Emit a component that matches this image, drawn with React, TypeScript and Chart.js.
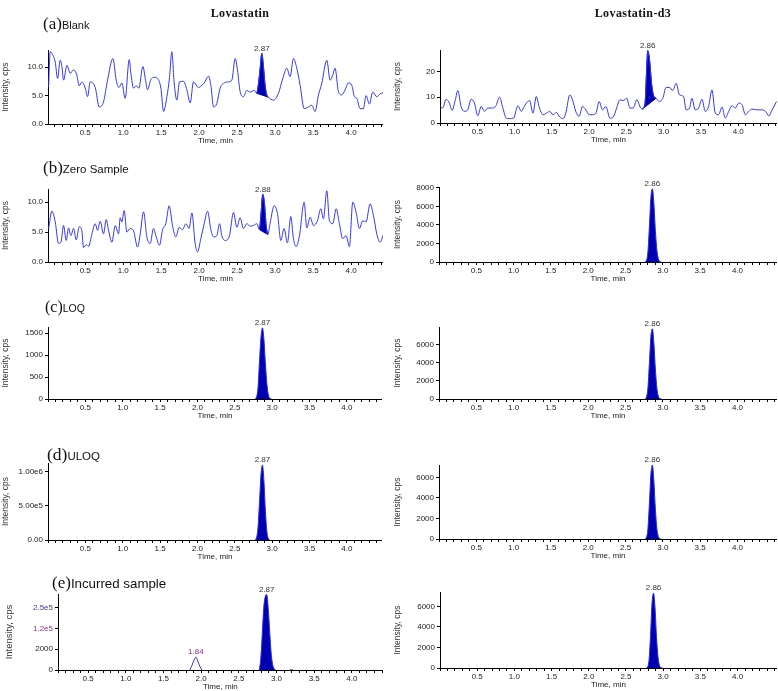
import React, { useEffect, useRef } from 'react';
import { Chart, registerables, LinearScale } from 'chart.js';

Chart.register(...registerables);

// ---------------- data ----------------
const timeTickLabels = ['0.5', '1.0', '1.5', '2.0', '2.5', '3.0', '3.5', '4.0'];

// (a) Blank – Lovastatin
const blankAnalyteTime = [0.018,0.039,0.061,0.105,0.136,0.171,0.193,0.215,0.259,0.303,0.346,0.390,0.421,0.456,0.500,0.531,0.566,0.632,0.684,0.741,0.794,0.864,0.908,0.943,0.982,1.026,1.079,1.101,1.136,1.171,1.206,1.259,1.294,1.320,1.364,1.408,1.452,1.496,1.531,1.575,1.610,1.640,1.671,1.706,1.741,1.794,1.838,1.882,1.925,1.991,2.035,2.066,2.123,2.154,2.189,2.232,2.276,2.329,2.386,2.430,2.474,2.504,2.539,2.583,2.627,2.671,2.724,2.759,2.781,2.803,2.825,2.846,2.868,2.890,2.912,2.978,3.044,3.101,3.154,3.197,3.241,3.285,3.329,3.382,3.439,3.482,3.526,3.570,3.614,3.680,3.724,3.759,3.789,3.833,3.877,3.921,3.965,4.009,4.044,4.075,4.118,4.162,4.197,4.241,4.285,4.338,4.382,4.425];
const blankAnalyteIntensity = [6.5,12.7,12.4,10.9,8.0,11.2,10.1,7.7,10.3,8.9,9.5,8.6,6.7,7.4,6.3,4.8,7.4,6.4,3.0,3.9,7.7,11.5,7.7,6.4,7.2,4.5,11.3,8.9,6.3,6.7,6.3,10.1,7.7,6.0,7.8,8.2,8.0,6.3,2.2,4.8,8.2,12.7,7.2,4.2,7.4,7.5,6.0,3.7,7.4,6.4,6.8,7.2,8.4,6.8,3.0,3.6,6.3,7.2,7.4,7.7,11.5,9.5,5.7,4.8,5.9,5.6,5.9,5.4,7.1,9.8,12.4,10.1,6.8,5.1,4.7,4.2,5.4,8.0,9.8,8.3,11.5,9.8,6.8,2.7,3.0,3.3,2.2,5.1,7.1,11.2,7.7,8.6,9.8,5.7,5.1,6.0,7.2,6.8,4.8,4.5,2.7,2.7,5.0,3.5,5.6,4.8,5.3,5.5];
const blankAnalytePeakWindow = [2.759, 2.912];
const blankAnalyteYTicks = [0, 5, 10];

// (a) Blank – Lovastatin-d3
const blankISTime = [0.000,0.036,0.081,0.126,0.162,0.206,0.238,0.283,0.328,0.372,0.417,0.462,0.507,0.552,0.597,0.642,0.686,0.745,0.799,0.843,0.888,0.933,0.987,1.045,1.090,1.135,1.202,1.247,1.292,1.328,1.382,1.427,1.472,1.516,1.561,1.606,1.651,1.687,1.741,1.777,1.821,1.866,1.911,1.956,2.001,2.046,2.091,2.135,2.180,2.225,2.279,2.324,2.369,2.414,2.458,2.503,2.548,2.593,2.639,2.692,2.714,2.750,2.773,2.786,2.809,2.840,2.862,2.898,2.943,2.988,3.033,3.078,3.122,3.167,3.212,3.266,3.302,3.347,3.378,3.423,3.468,3.513,3.558,3.603,3.647,3.692,3.737,3.782,3.827,3.872,3.917,3.961,4.006,4.051,4.096,4.141,4.186,4.253,4.320,4.365,4.410,4.455,4.513];
const blankISIntensity = [6.4,5.8,9.2,7.7,4.9,9.0,12.6,6.4,4.5,5.1,9.2,7.7,2.8,6.4,4.5,5.8,5.8,6.4,10.0,5.8,1.9,1.7,1.9,6.7,4.5,6.7,8.7,3.8,10.3,6.4,3.2,3.8,4.5,3.2,4.1,2.3,1.7,3.8,10.9,9.0,4.5,2.6,6.4,5.1,3.2,3.2,3.8,8.3,5.1,6.4,1.9,2.3,5.8,9.0,8.7,9.6,5.8,5.8,9.0,5.8,5.4,7.7,21.8,28.1,24.9,14.7,10.9,9.6,8.3,9.6,13.8,13.8,12.6,15.4,10.9,10.3,5.1,5.8,9.6,5.1,5.8,9.2,4.5,6.4,12.8,3.8,3.2,6.2,1.9,4.5,6.7,5.8,7.7,7.1,3.2,4.5,5.4,5.1,5.1,4.5,2.8,5.1,8.3];
const blankISPeakWindow = [2.714, 2.898];
const blankISYTicks = [0, 10, 20];

// (b) Zero sample – Lovastatin
const zeroAnalyteTime = [0.018,0.061,0.105,0.149,0.180,0.215,0.250,0.281,0.311,0.346,0.382,0.421,0.456,0.478,0.513,0.544,0.588,0.632,0.662,0.697,0.741,0.776,0.807,0.851,0.895,0.939,0.961,0.982,1.013,1.048,1.092,1.136,1.189,1.224,1.268,1.311,1.355,1.399,1.434,1.478,1.518,1.561,1.605,1.649,1.693,1.737,1.781,1.825,1.868,1.904,1.947,1.978,2.022,2.066,2.110,2.154,2.189,2.232,2.268,2.298,2.342,2.399,2.452,2.496,2.539,2.583,2.627,2.671,2.715,2.759,2.794,2.811,2.838,2.860,2.882,2.904,2.934,2.987,3.031,3.075,3.118,3.162,3.206,3.241,3.276,3.320,3.382,3.417,3.461,3.504,3.557,3.601,3.636,3.680,3.715,3.759,3.803,3.846,3.890,3.934,3.978,4.022,4.066,4.110,4.154,4.197,4.250,4.294,4.338,4.382,4.425];
const zeroAnalyteIntensity = [5.6,8.5,6.7,3.1,3.3,6.1,3.6,5.7,4.4,5.6,3.7,5.9,5.2,2.4,2.9,2.6,4.7,6.4,5.3,6.8,4.7,7.1,5.3,3.3,6.1,4.7,7.4,6.7,8.6,5.0,5.6,5.2,2.5,4.7,8.4,4.2,3.1,5.6,4.2,2.8,5.4,6.4,9.4,6.1,4.2,5.8,5.4,6.4,5.6,8.2,3.1,1.7,3.9,6.4,8.5,5.4,4.2,4.4,6.4,4.4,3.6,4.4,8.3,5.8,7.4,5.6,6.4,6.0,6.1,6.4,5.4,7.5,11.3,9.7,6.1,4.6,6.5,9.4,8.1,3.6,5.6,3.2,7.6,3.9,2.6,4.4,10.0,5.7,7.5,6.1,6.9,8.9,7.2,11.9,6.9,6.4,8.9,6.4,3.9,4.4,2.6,10.0,8.3,5.6,6.9,6.7,9.7,7.8,4.7,3.3,4.6];
const zeroAnalytePeakWindow = [2.794, 2.904];
const zeroAnalyteYTicks = [0, 5, 10];

// (b) Zero sample – Lovastatin-d3
const zeroISPeakTime = [2.76,2.78,2.80,2.82,2.84,2.86,2.88,2.90,2.92,2.94,2.96,2.98];
const zeroISPeakIntensity = [0,150,1100,3900,7000,7900,6300,3400,1300,350,60,0];
const zeroISYTicks = [0, 2000, 4000, 6000, 8000];

// (c) LOQ
const loqAnalytePeakTime = [2.77,2.79,2.81,2.83,2.85,2.87,2.89,2.91,2.93,2.95,2.97,2.99];
const loqAnalytePeakIntensity = [0,40,250,850,1400,1620,1350,800,330,90,15,0];
const loqAnalyteYTicks = [0, 500, 1000, 1500];
const loqISPeakTime = [2.76,2.78,2.80,2.82,2.84,2.86,2.88,2.90,2.92,2.94,2.96,2.98];
const loqISPeakIntensity = [0,200,1200,4000,6900,7700,6100,3300,1200,300,50,0];
const loqISYTicks = [0, 2000, 4000, 6000];

// (d) ULOQ
const uloqAnalytePeakTime = [2.77,2.79,2.81,2.83,2.85,2.87,2.89,2.91,2.93,2.95,2.97];
const uloqAnalytePeakIntensity = [0,30000,180000,550000,950000,1100000,860000,420000,120000,20000,0];
const uloqAnalyteYTicks = [0, 500000, 1000000];
const uloqISPeakTime = [2.76,2.78,2.80,2.82,2.84,2.86,2.88,2.90,2.92,2.94,2.96,2.98];
const uloqISPeakIntensity = [0,150,1000,3500,6300,7200,5600,2900,1000,250,40,0];
const uloqISYTicks = [0, 2000, 4000, 6000];

// (e) Incurred sample (analyte axis is broken at these tick values)
const incurredAxisBreaks = [0, 2000, 120000, 250000];
const incurredAnalytePeakTime = [2.77,2.79,2.81,2.83,2.85,2.87,2.89,2.91,2.93,2.95,2.97,2.99];
const incurredAnalytePeakIntensity = [0,952,80700,243800,318000,330500,243800,97600,1524,476,95,0];
const incurredMetabolitePeakTime = [1.85,1.88,1.91,1.93,1.95,1.98,2.01];
const incurredMetabolitePeakIntensity = [0,476,1048,1240,952,381,0];
const incurredMinorTime = [3.18,3.20,3.22];
const incurredMinorIntensity = [0,60,0];
const incurredISPeakTime = [2.77,2.79,2.81,2.83,2.85,2.87,2.89,2.91,2.93,2.95,2.97,2.99];
const incurredISPeakIntensity = [0,100,800,3200,6300,7300,5900,3100,1100,250,40,0];
const incurredISYTicks = [0, 2000, 4000, 6000];

// ---------------- styling ----------------
const LINE = '#3535f2';
const FILL = '#0000b0';
const SANS = '"Liberation Sans", Arial, sans-serif';
const SERIF = '"Liberation Serif", "Times New Roman", serif';
const PAD_TOP = 12;
const X_AXIS_H = 22;
const MINOR_TIME_STEP = 0.1;

// ---------------- broken axis scale ----------------
function toUnit(v: number) {
  const b = incurredAxisBreaks;
  for (let i = 1; i < b.length; i++) {
    if (v <= b[i]) return i - 1 + (v - b[i - 1]) / (b[i] - b[i - 1]);
  }
  const n = b.length - 1;
  return n + (v - b[n]) / (b[n] - b[n - 1]);
}
function fromUnit(u: number) {
  const b = incurredAxisBreaks;
  const n = b.length - 1;
  if (u >= n) return b[n] + (u - n) * (b[n] - b[n - 1]);
  const i = Math.max(0, Math.floor(u));
  return b[i] + (u - i) * (b[i + 1] - b[i]);
}
class BrokenLinearScale extends (LinearScale as any) {
  static id = 'brokenLinear';
  static defaults = (LinearScale as any).defaults;
  determineDataLimits() {
    this.min = 0;
    this.max = this.options.max;
  }
  buildTicks() {
    return incurredAxisBreaks.map((value) => ({ value }));
  }
  getPixelForValue(value: any) {
    if (value === null || value === undefined) return NaN;
    return this.getPixelForDecimal((toUnit(value) - this._startValue) / this._valueRange);
  }
  getValueForPixel(pixel: number) {
    return fromUnit(this._startValue + this.getDecimalForPixel(pixel) * this._valueRange);
  }
}
Chart.register(BrokenLinearScale as any);

// ---------------- helpers ----------------
const pts = (t: number[], v: number[]) => t.map((x, i) => ({ x, y: v[i] }));

function noisyDatasets(t: number[], v: number[], w: number[]) {
  const all = pts(t, v);
  const peak = all.filter((p) => p.x >= w[0] - 1e-9 && p.x <= w[1] + 1e-9);
  const base = [peak[0], peak[peak.length - 1]];
  return [
    { data: all, borderColor: LINE, borderWidth: 1, pointRadius: 0, cubicInterpolationMode: 'monotone', fill: false },
    { data: peak, borderColor: FILL, borderWidth: 1, backgroundColor: FILL, pointRadius: 0, cubicInterpolationMode: 'monotone', fill: '+1' },
    { data: base, borderColor: FILL, borderWidth: 1, pointRadius: 0, fill: false },
  ];
}
function peakDataset(t: number[], v: number[]) {
  return { data: pts(t, v), borderColor: '#2b2bd8', borderWidth: 1, backgroundColor: FILL, pointRadius: 0, cubicInterpolationMode: 'monotone', fill: 'origin' };
}
function lineDataset(t: number[], v: number[]) {
  return { data: pts(t, v), borderColor: LINE, borderWidth: 1, pointRadius: 0, cubicInterpolationMode: 'monotone', fill: false };
}

const fixed1 = (v: number) => Number(v).toFixed(1);
const int = (v: number) => String(Math.round(v));
const expFmt = (v: number) => (v === 0 ? '0.00' : Number(v).toExponential(2).replace('e+', 'e'));
const brokenFmt = (v: number) => (v === 0 ? '0' : v === 2000 ? '2000' : v === 120000 ? '1.2e5' : '2.5e5');

function xLabel(v: number) {
  const s = Number(v).toFixed(1);
  return Math.abs(Number(s) - v) < 1e-6 && timeTickLabels.includes(s) ? s : '';
}
function minorTimeTicks(min: number, max: number) {
  const out: { value: number }[] = [];
  for (let k = Math.ceil(min / MINOR_TIME_STEP - 1e-9); k * MINOR_TIME_STEP <= max + 1e-9; k++) {
    out.push({ value: Math.round(k * MINOR_TIME_STEP * 10) / 10 });
  }
  return out;
}

function makeLabelPlugin(items: any[]) {
  return {
    id: 'peakLabels',
    afterDatasetsDraw(chart: any) {
      const ctx = chart.ctx;
      items.forEach((it) => {
        const meta = chart.getDatasetMeta(it.ds);
        const data = chart.data.datasets[it.ds].data;
        let best = 0;
        data.forEach((p: any, i: number) => { if (p.y > data[best].y) best = i; });
        const el = meta.data[best];
        if (!el) return;
        ctx.save();
        ctx.font = `8px ${SANS}`;
        ctx.fillStyle = it.color || '#333';
        ctx.textAlign = 'center';
        ctx.textBaseline = 'bottom';
        ctx.fillText(it.text, el.x, el.y - 1);
        ctx.restore();
      });
    },
  };
}

const panels: any[] = [
  { key: 'aL', col: 0, area: [48, 50, 383, 124], xr: [0.01, 4.42], y: { max: 13, ticks: blankAnalyteYTicks, fmt: fixed1 },
    build: () => noisyDatasets(blankAnalyteTime, blankAnalyteIntensity, blankAnalytePeakWindow), labels: [{ ds: 1, text: '2.87' }] },
  { key: 'aR', col: 390, area: [440, 50, 777, 123], xr: [0, 4.52], y: { max: 28.3, ticks: blankISYTicks, fmt: int },
    build: () => noisyDatasets(blankISTime, blankISIntensity, blankISPeakWindow), labels: [{ ds: 1, text: '2.86' }] },
  { key: 'bL', col: 0, area: [48, 189, 383, 262], xr: [0.01, 4.42], y: { max: 12.2, ticks: zeroAnalyteYTicks, fmt: fixed1 },
    build: () => noisyDatasets(zeroAnalyteTime, zeroAnalyteIntensity, zeroAnalytePeakWindow), labels: [{ ds: 1, text: '2.88' }] },
  { key: 'bR', col: 390, area: [439, 187, 777, 262], xr: [0, 4.53], y: { max: 8100, ticks: zeroISYTicks, fmt: int },
    build: () => [peakDataset(zeroISPeakTime, zeroISPeakIntensity)], labels: [{ ds: 0, text: '2.86' }] },
  { key: 'cL', col: 0, area: [48, 327, 382, 399], xr: [0, 4.47], y: { max: 1640, ticks: loqAnalyteYTicks, fmt: int },
    build: () => [peakDataset(loqAnalytePeakTime, loqAnalytePeakIntensity)], labels: [{ ds: 0, text: '2.87' }] },
  { key: 'cR', col: 390, area: [439, 327, 777, 399], xr: [0, 4.53], y: { max: 7900, ticks: loqISYTicks, fmt: int },
    build: () => [peakDataset(loqISPeakTime, loqISPeakIntensity)], labels: [{ ds: 0, text: '2.86' }] },
  { key: 'dL', col: 0, area: [48, 463, 382, 540], xr: [0, 4.47], y: { max: 1130000, ticks: uloqAnalyteYTicks, fmt: expFmt },
    build: () => [peakDataset(uloqAnalytePeakTime, uloqAnalytePeakIntensity)], labels: [{ ds: 0, text: '2.87' }] },
  { key: 'dR', col: 390, area: [439, 465, 777, 539], xr: [0, 4.53], y: { max: 7200, ticks: uloqISYTicks, fmt: int },
    build: () => [peakDataset(uloqISPeakTime, uloqISPeakIntensity)], labels: [{ ds: 0, text: '2.86' }] },
  { key: 'eL', col: 0, area: [58, 594, 383, 670], xr: [0.1, 4.41], y: { max: 3.65, broken: true, ticks: incurredAxisBreaks, fmt: brokenFmt }, titlePad: 4, titleSize: 9.5,
    build: () => [
      peakDataset(incurredAnalytePeakTime, incurredAnalytePeakIntensity),
      lineDataset(incurredMetabolitePeakTime, incurredMetabolitePeakIntensity),
      lineDataset(incurredMinorTime, incurredMinorIntensity),
    ],
    labels: [{ ds: 0, text: '2.87' }, { ds: 1, text: '1.84', color: '#9a2a8a' }] },
  { key: 'eR', col: 390, area: [440, 592, 777, 668], xr: [0, 4.53], y: { max: 7400, ticks: incurredISYTicks, fmt: int },
    build: () => [peakDataset(incurredISPeakTime, incurredISPeakIntensity)], labels: [{ ds: 0, text: '2.86' }] },
];

function makeConfig(p: any): any {
  const W = p.area[0] - p.col;
  const axisGrid = { display: true, drawOnChartArea: false, drawTicks: true, tickLength: 3, color: '#000', lineWidth: 1 };
  const border = { display: true, color: '#000', width: 1 };
  const tickColor = (ctx: any) => {
    const v = ctx.tick ? ctx.tick.value : null;
    if (p.y.broken && v === 120000) return '#a0288c';
    if (p.y.broken && v === 250000) return '#3c3c9c';
    return '#222';
  };
  return {
    type: 'line',
    data: { datasets: p.build() },
    options: {
      animation: false,
      responsive: false,
      devicePixelRatio: 1,
      events: [],
      layout: { padding: { top: PAD_TOP, right: 0, left: 0, bottom: 0 } },
      plugins: { legend: { display: false }, tooltip: { enabled: false } },
      scales: {
        x: {
          type: 'linear', min: p.xr[0], max: p.xr[1], bounds: 'data',
          afterFit: (s: any) => { s.height = X_AXIS_H; },
          afterBuildTicks: (s: any) => { s.ticks = minorTimeTicks(p.xr[0], p.xr[1]); },
          border, grid: axisGrid,
          ticks: { autoSkip: false, maxRotation: 0, minRotation: 0, padding: 1,
            color: '#222', font: { family: SANS, size: 8 }, callback: (v: any) => xLabel(Number(v)) },
          title: { display: true, text: 'Time, min', color: '#222', font: { family: SANS, size: 8 }, padding: { top: 0, bottom: 0 } },
        },
        y: {
          type: p.y.broken ? 'brokenLinear' : 'linear', min: 0, max: p.y.max, bounds: 'data',
          afterFit: (s: any) => { s.width = W; },
          afterBuildTicks: (s: any) => { s.ticks = p.y.ticks.map((value: number) => ({ value })); },
          border, grid: axisGrid,
          ticks: { padding: 2, color: tickColor, autoSkip: false,
            font: { family: SANS, size: 8 }, callback: (v: any) => p.y.fmt(Number(v)) },
          title: { display: true, text: 'Intensity, cps', color: '#333', font: { family: SANS, size: p.titleSize || 8.5 },
            padding: { top: p.titlePad !== undefined ? p.titlePad : (p.col ? 3 : 1), bottom: 0 } },
        },
      },
    },
    plugins: [makeLabelPlugin(p.labels)],
  };
}

function Panel({ p }: { p: any }) {
  const ref = useRef<HTMLCanvasElement | null>(null);
  const w = p.area[2] - p.col;
  const h = PAD_TOP + (p.area[3] - p.area[1]) + X_AXIS_H;
  useEffect(() => {
    if (!ref.current) return;
    const chart = new Chart(ref.current, makeConfig(p));
    return () => chart.destroy();
  }, []);
  return (
    <canvas
      ref={ref}
      width={w}
      height={h}
      style={{ position: 'absolute', left: p.col, top: p.area[1] - PAD_TOP, width: w, height: h }}
    />
  );
}

export default function App() {
  return (
    <div style={{ position: 'absolute', left: 0, top: 0, width: 778, height: 691, overflow: 'hidden', background: '#fff' }}>
      {panels.map((p) => <Panel key={p.key} p={p} />)}
      <svg width={778} height={691} style={{ position: 'absolute', left: 0, top: 0, pointerEvents: 'none' }}>
        <text x={240} y={17} textAnchor="middle" fontFamily={SERIF} fontWeight="bold" fontSize={12} letterSpacing={0.4} fill="#111">Lovastatin</text>
        <text x={633} y={17} textAnchor="middle" fontFamily={SERIF} fontWeight="bold" fontSize={12} letterSpacing={0.4} fill="#111">Lovastatin-d3</text>
        <text x={43} y={29} fill="#111">
          <tspan fontFamily={SERIF} fontSize={17}>(a)</tspan>
          <tspan fontFamily={SANS} fontSize={11}>Blank</tspan>
        </text>
        <text x={43} y={173} fill="#111">
          <tspan fontFamily={SERIF} fontSize={17}>(b)</tspan>
          <tspan fontFamily={SANS} fontSize={11.5}>Zero Sample</tspan>
        </text>
        <text x={45} y={312} fill="#111">
          <tspan fontFamily={SERIF} fontSize={16}>(c)</tspan>
          <tspan fontFamily={SANS} fontSize={10.5}>LOQ</tspan>
        </text>
        <text x={47} y={460} fill="#111">
          <tspan fontFamily={SERIF} fontSize={17.5}>(d)</tspan>
          <tspan fontFamily={SANS} fontSize={11.5}>ULOQ</tspan>
        </text>
        <text x={52} y={588} fill="#111">
          <tspan fontFamily={SERIF} fontSize={17}>(e)</tspan>
          <tspan fontFamily={SANS} fontSize={13.3}>Incurred sample</tspan>
        </text>
      </svg>
    </div>
  );
}
